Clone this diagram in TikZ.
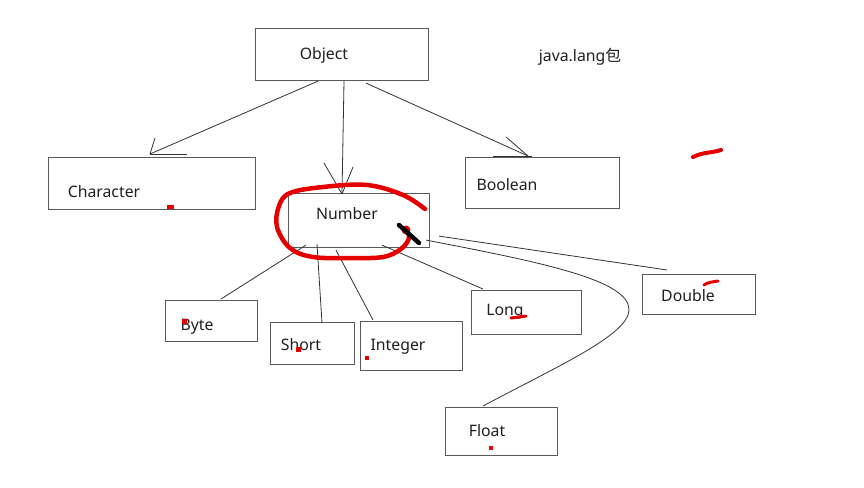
\documentclass[tikz,border=0pt]{standalone}
\usepackage{fontspec}
\setmainfont{Noto Sans}
\newfontfamily\cjk{Noto Sans CJK SC}
\begin{document}
\begin{tikzpicture}[x=1pt,y=-1pt,
  box/.style={draw=black!65,line width=1.1pt,anchor=north west,inner sep=0pt},
  lbl/.style={text=black!88,font=\fontsize{15.8}{19}\selectfont,inner sep=0pt,yshift=-2pt},
  conn/.style={draw=black!80,line width=0.8pt},
  redpen/.style={draw=red!90!black,line width=4.5pt,line cap=round,line join=round},
  reddot/.style={fill=red!90!black}]
\useasboundingbox[fill=white] (0,0) rectangle (864,487);
% boxes
\node[box,minimum width=173pt,minimum height=52pt] (obj) at (255,28) {};
\node[box,minimum width=207pt,minimum height=52pt] (chr) at (48,157) {};
\node[box,minimum width=154pt,minimum height=51pt] (bool) at (465,157) {};
\node[box,minimum width=141pt,minimum height=54pt] (num) at (288,193) {};
\node[box,minimum width=92pt,minimum height=41pt] (byte) at (165,300) {};
\node[box,minimum width=84pt,minimum height=42pt] (short) at (270,322) {};
\node[box,minimum width=102pt,minimum height=49pt] (int) at (360,321) {};
\node[box,minimum width=110pt,minimum height=44pt] (long) at (471,290) {};
\node[box,minimum width=113pt,minimum height=40pt] (dbl) at (642,274) {};
\node[box,minimum width=112pt,minimum height=48pt] (flt) at (445,407) {};
% labels
\node[lbl] (objt) at (324,53) {Object};
\node[lbl] (chrt) at (104,190) {Character};
\node[lbl] (boolt) at (507,183) {Boolean};
\node[lbl] (numt) at (347,212) {Number};
\node[lbl] (bytet) at (197,325) {Byte};
\node[lbl] (shortt) at (301,343) {Short};
\node[lbl] (intt) at (398,345) {Integer};
\node[lbl] (longt) at (505,310) {Long};
\node[lbl] (dblt) at (688,294) {Double};
\node[lbl] (fltt) at (487,429) {Float};
\node[lbl] (pkg) at (580,55) {java.lang{\cjk 包}};
% arrows from Object
\coordinate (tc) at ([xshift=102pt,yshift=3pt]chr.north west);
\draw[conn] ([xshift=63pt]obj.south west) -- (tc);
\draw[conn] (tc) -- ++(5,-16);
\draw[conn] (tc) -- ++(37,0);
\coordinate (tn) at ([xshift=54pt,yshift=-1pt]num.north west);
\draw[conn] ([xshift=89pt]obj.south west) -- (tn);
\draw[conn] (tn) -- ++(-18,-31);
\draw[conn] (tn) -- ++(11,-27);
\coordinate (tb) at ([xshift=63pt,yshift=1pt]bool.north west);
\draw[conn] ([xshift=111pt,yshift=-2pt]obj.south west) -- (tb);
\draw[conn] (tb) -- ++(-22,-19);
\draw[conn] ([xshift=-35pt]tb) -- ([xshift=4pt]tb);
% lines from Number
\draw[conn] ([xshift=18pt,yshift=3pt]num.south west) -- ([xshift=56pt,yshift=1pt]byte.north west);
\draw[conn] ([xshift=29pt,yshift=4pt]num.south west) -- ([xshift=52pt,yshift=-1pt]short.north west);
\draw[conn] ([xshift=48pt,yshift=-2pt]num.south west) -- ([xshift=13pt,yshift=1pt]int.north west);
\draw[conn] ([xshift=94pt,yshift=3pt]num.south west) -- ([xshift=12pt,yshift=1pt]long.north west);
\draw[conn] ([xshift=9pt,yshift=12pt]num.south east) -- ([xshift=25pt,yshift=4pt]dbl.north west);
\coordinate (fa) at ([xshift=-4pt,yshift=8pt]num.south east);
\coordinate (fb) at ([xshift=38pt,yshift=1pt]flt.north west);
\draw[conn] (fa) .. controls (540,262) and (630,280) .. (629,310)
  .. controls (628,335) and (560,365) .. (fb);
% red annotations
\draw[redpen] plot[smooth,tension=0.6] coordinates {(425,209) (403,195) (367,185) (323,187) (290,193) (279,206) (277,227) (290,248) (313,257) (350,258) (383,257) (401,249) (409,238) (406,229)};
\fill[red!90!black] (406,230) circle (4.5pt);
\draw[black,line width=4.5pt,line cap=round] (399,225) -- (419,243);
\draw[redpen,line width=4pt] (693,157) .. controls (703,152) and (712,153) .. (721,150);
\draw[redpen,line width=3pt] (511,318) -- (526,316);
\draw[redpen,line width=3pt] (704,285) .. controls (708,282) and (713,282) .. (718,281);
\fill[reddot] (167,205) rectangle (174,209);
\fill[reddot] (182,319) rectangle (187,324);
\fill[reddot] (296,347) rectangle (301,352);
\fill[reddot] (365,356) rectangle (369,360);
\fill[reddot] (489,446) rectangle (493,450);
\end{tikzpicture}
\end{document}
